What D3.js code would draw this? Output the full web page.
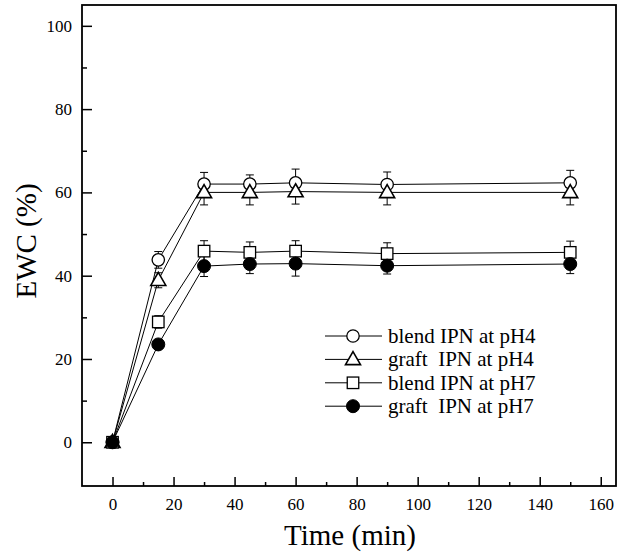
<!DOCTYPE html>
<html>
<head>
<meta charset="utf-8">
<script src="https://cdn.jsdelivr.net/npm/d3@7"></script>
<style>
  html, body { margin: 0; padding: 0; background: #fff; }
  svg { display: block; }
  svg text { font-family: "Liberation Serif", "Times New Roman", serif !important; fill: #000; }
</style>
</head>
<body>
<svg id="chart" width="626" height="558"></svg>
<script>
// ---- data ----
const times = [0, 15, 30, 45, 60, 90, 150];
const blendPH4 = [0, 43.8, 62.0, 62.0, 62.3, 61.9, 62.3];
const graftPH4 = [0, 38.9, 60.0, 60.0, 60.2, 60.0, 60.0];
const blendPH7 = [0, 28.9, 45.9, 45.6, 45.9, 45.3, 45.6];
const graftPH7 = [0, 23.5, 42.3, 42.8, 42.9, 42.4, 42.8];
const errBlendPH4 = [0, 2.0, 2.8, 2.2, 3.3, 3.0, 3.0];
const errGraftPH4 = [0, 1.8, 3.0, 3.0, 3.0, 3.0, 3.0];
const errBlendPH7 = [0, 1.5, 2.5, 2.5, 2.5, 2.6, 2.7];
const errGraftPH7 = [0, 1.0, 2.5, 2.3, 3.0, 2.0, 2.3];
const seriesNames = ["blend IPN at pH4", "graft  IPN at pH4", "blend IPN at pH7", "graft  IPN at pH7"];
const xMajorTicks = [0, 20, 40, 60, 80, 100, 120, 140, 160];
const xMinorTicks = [10, 30, 50, 70, 90, 110, 130, 150];
const yMajorTicks = [0, 20, 40, 60, 80, 100];
const yMinorTicks = [10, 30, 50, 70, 90];
const xTitle = "Time (min)";
const yTitle = "EWC (%)";

const series = [
  { name: seriesNames[0], values: blendPH4, err: errBlendPH4, symbol: "circle" },
  { name: seriesNames[1], values: graftPH4, err: errGraftPH4, symbol: "triangle" },
  { name: seriesNames[2], values: blendPH7, err: errBlendPH7, symbol: "square" },
  { name: seriesNames[3], values: graftPH7, err: errGraftPH7, symbol: "filled" }
];

const SERIF = '"Liberation Serif", "Times New Roman", serif';
const svg = d3.select("#chart");
const L = 82, R = 616, T = 5, B = 486;
const x = d3.scaleLinear().domain([-10, 165]).range([L, R]);
const y = d3.scaleLinear().domain([-10.5, 105]).range([B, T]);

// axes
const fontTick = "17px";
const gx = svg.append("g").attr("transform", `translate(0,${B})`)
  .call(d3.axisBottom(x).tickValues(xMajorTicks).tickSizeInner(-9).tickSizeOuter(0).tickPadding(10));
gx.attr("font-family", SERIF).attr("font-size", 17);
gx.select(".domain").remove();
gx.selectAll(".tick line").attr("stroke", "#000").attr("stroke-width", 1.5);
gx.selectAll(".tick text").style("font-size", fontTick).style("font-family", SERIF).attr("dy", "0.85em");

const gxm = svg.append("g").attr("transform", `translate(0,${B})`)
  .call(d3.axisBottom(x).tickValues(xMinorTicks).tickSizeInner(-4).tickSizeOuter(0).tickFormat(""));
gxm.select(".domain").remove();
gxm.selectAll(".tick line").attr("stroke", "#000").attr("stroke-width", 1.5);

const gy = svg.append("g").attr("transform", `translate(${L},0)`)
  .call(d3.axisLeft(y).tickValues(yMajorTicks).tickSizeInner(-10).tickSizeOuter(0).tickPadding(10));
gy.attr("font-family", SERIF).attr("font-size", 17);
gy.select(".domain").remove();
gy.selectAll(".tick line").attr("stroke", "#000").attr("stroke-width", 1.5);
gy.selectAll(".tick text").style("font-size", fontTick).style("font-family", SERIF);

const gym = svg.append("g").attr("transform", `translate(${L},0)`)
  .call(d3.axisLeft(y).tickValues(yMinorTicks).tickSizeInner(-5).tickSizeOuter(0).tickFormat(""));
gym.select(".domain").remove();
gym.selectAll(".tick line").attr("stroke", "#000").attr("stroke-width", 1.5);

// frame
svg.append("rect").attr("x", L).attr("y", T).attr("width", R - L).attr("height", B - T)
  .attr("fill", "none").attr("stroke", "#000").attr("stroke-width", 1.8);

// titles
svg.append("text").attr("x", 350).attr("y", 545)
  .attr("text-anchor", "middle").style("font-size", "29px").style("font-family", SERIF).text(xTitle);
svg.append("text").attr("transform", `translate(36,241) rotate(-90)`)
  .attr("text-anchor", "middle").style("font-size", "29px").style("font-family", SERIF).text(yTitle);

// lines
const line = d3.line().x((d, i) => x(times[i])).y(d => y(d));
series.forEach(s => {
  svg.append("path").datum(s.values).attr("d", line)
    .attr("fill", "none").attr("stroke", "#000").attr("stroke-width", 1);
});

// error bars
const cap = 4;
series.forEach(s => {
  const g = svg.append("g").attr("stroke", "#000").attr("stroke-width", 1);
  s.values.forEach((v, i) => {
    const e = s.err[i];
    if (!e) return;
    const cx = x(times[i]);
    g.append("line").attr("x1", cx).attr("x2", cx).attr("y1", y(v - e)).attr("y2", y(v + e));
    g.append("line").attr("x1", cx - cap).attr("x2", cx + cap).attr("y1", y(v + e)).attr("y2", y(v + e));
    g.append("line").attr("x1", cx - cap).attr("x2", cx + cap).attr("y1", y(v - e)).attr("y2", y(v - e));
  });
});

// markers
function drawSymbol(g, type, cx, cy) {
  if (type === "circle") {
    g.append("circle").attr("cx", cx).attr("cy", cy).attr("r", 6.2)
      .attr("fill", "#fff").attr("stroke", "#000").attr("stroke-width", 1.3);
  } else if (type === "triangle") {
    const h = 13, w = 15;
    g.append("path")
      .attr("d", `M${cx},${cy - h * 0.6}L${cx + w / 2},${cy + h * 0.4}L${cx - w / 2},${cy + h * 0.4}Z`)
      .attr("fill", "#fff").attr("stroke", "#000").attr("stroke-width", 1.6);
  } else if (type === "square") {
    const s = 11.5;
    g.append("rect").attr("x", cx - s / 2).attr("y", cy - s / 2).attr("width", s).attr("height", s)
      .attr("fill", "#fff").attr("stroke", "#000").attr("stroke-width", 1.3);
  } else {
    g.append("circle").attr("cx", cx).attr("cy", cy).attr("r", 6.5)
      .attr("fill", "#000").attr("stroke", "#000").attr("stroke-width", 1);
  }
}
series.forEach(s => {
  const g = svg.append("g");
  s.values.forEach((v, i) => drawSymbol(g, s.symbol, x(times[i]), y(v)));
});

// legend
const legY0 = 336, legDy = 23.4;
series.forEach((s, i) => {
  const ly = legY0 + i * legDy;
  const g = svg.append("g");
  g.append("line").attr("x1", 325).attr("x2", 382).attr("y1", ly).attr("y2", ly)
    .attr("stroke", "#000").attr("stroke-width", 1);
  drawSymbol(g, s.symbol, 353, ly);
  g.append("text").attr("x", 388).attr("y", ly + 7).style("font-size", "21px").style("font-family", SERIF)
    .attr("xml:space", "preserve").style("white-space", "pre").text(s.name);
});
</script>
</body>
</html>
